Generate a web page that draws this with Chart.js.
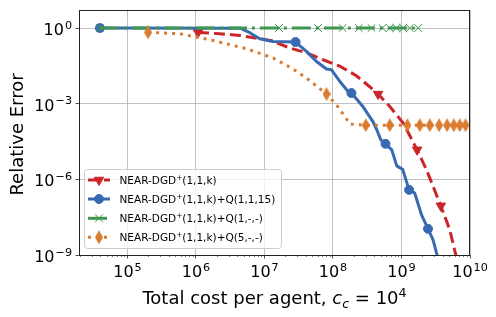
<!DOCTYPE html>
<html>
<head>
    <title>Relative Error vs Total Cost</title>
    <script src="https://cdn.jsdelivr.net/npm/chart.js"></script>
    <style>
        body {
            margin: 0;
            padding: 0;
            background-color: #fff;
        }

        #wrap {
            width: 496px;
            height: 317px;
        }
    </style>
</head>
<body>
    <div id="wrap"><canvas id="errChart" width="496" height="317"></canvas></div>

    <script>
        // series names (legend order)
        const seriesNames = [
            'NEAR-DGD\u207A(1,1,k)',
            'NEAR-DGD\u207A(1,1,k)+Q(1,1,15)',
            'NEAR-DGD\u207A(1,1,k)+Q(1,-,-)',
            'NEAR-DGD\u207A(1,1,k)+Q(5,-,-)'
        ];

        // NEAR-DGD+(1,1,k)
        const redCost = [1.07e6, 2.22e6, 4.35e6, 1.28e7, 2.34e7, 4.1e7, 7.17e7, 1.26e8, 2.2e8, 3.44e8, 4.55e8, 6.75e8, 1.06e9, 1.69e9, 2.32e9, 3.75e9, 5.07e9, 6.2e9, 6.86e9];
        const redErr = [0.669, 0.594, 0.508, 0.313, 0.161, 0.105, 0.0552, 0.0305, 0.0128, 4.69e-3, 2.4e-3, 7.74e-4, 1.7e-4, 1.48e-5, 2.38e-6, 8.9e-8, 9.9e-9, 1.0e-9, 4e-10];
        const redMarks = [0, 10, 13, 15];

        // +Q(1,1,15)
        const blueCost = [3.95e4, 4.39e6, 6.1e6, 8.53e6, 1.32e7, 2.84e7, 4.1e7, 5.74e7, 8.04e7, 9.51e7, 1.26e8, 1.66e8, 1.86e8, 2.75e8, 3.85e8, 4.36e8, 4.99e8, 5.84e8, 7.21e8, 8.53e8, 1.04e9, 1.29e9, 1.56e9, 1.96e9, 2.44e9, 2.89e9, 3.39e9];
        const blueErr = [1.0, 0.98, 0.65, 0.376, 0.294, 0.278, 0.118, 0.0473, 0.0236, 0.0221, 7.6e-3, 3.05e-3, 2.63e-3, 7.5e-4, 1.91e-4, 9.2e-5, 3.69e-5, 2.56e-5, 1.48e-5, 3.43e-6, 2.49e-6, 3.83e-7, 2.83e-7, 3.9e-8, 1.09e-8, 3.97e-9, 7.7e-10];
        const blueMarks = [0, 5, 12, 17, 21, 24];

        // +Q(1,-,-)
        const greenCost = [3.95e4, 1.63e7, 6.05e7, 1.38e8, 2.38e8, 3.65e8, 5.28e8, 6.75e8, 8.45e8, 1.06e9, 1.32e9, 1.75e9];
        const greenErr = [1.0, 1.0, 1.0, 1.0, 1.0, 1.0, 1.0, 1.0, 1.0, 1.0, 1.0, 1.0];
        const greenMarks = [0, 1, 2, 3, 4, 5, 6, 7, 8, 9, 10, 11];

        // +Q(5,-,-)
        const orangeCost = [2.0e5, 5.8e5, 1.76e6, 5.46e6, 1.34e7, 2.62e7, 4.1e7, 8.04e7, 1.12e8, 1.49e8, 1.76e8, 3.01e8, 6.75e8, 1.22e9, 1.85e9, 2.59e9, 3.54e9, 4.63e9, 5.8e9, 7.1e9, 8.6e9];
        const orangeErr = [0.669, 0.594, 0.322, 0.151, 0.0645, 0.0236, 0.0104, 2.4e-3, 9.0e-4, 3.1e-4, 1.55e-4, 1.4e-4, 1.4e-4, 1.4e-4, 1.4e-4, 1.4e-4, 1.4e-4, 1.4e-4, 1.4e-4, 1.4e-4, 1.4e-4];
        const orangeMarks = [0, 7, 11, 12, 13, 14, 15, 16, 17, 18, 19, 20];

        // axes
        const xTicks = [1e5, 1e6, 1e7, 1e8, 1e9, 1e10];
        const yTicks = [1e-9, 1e-6, 1e-3, 1];
        const xRange = [1.96e4, 1e10];
        const yRange = [1e-9, 5.18];

        const FONT = '"DejaVu Sans", sans-serif';

        function thinDiamond(color, w, h) {
            const c = document.createElement('canvas');
            c.width = w; c.height = h;
            const g = c.getContext('2d');
            g.fillStyle = color;
            g.beginPath();
            g.moveTo(w / 2, 0); g.lineTo(w, h / 2); g.lineTo(w / 2, h); g.lineTo(0, h / 2);
            g.closePath();
            g.fill();
            return c;
        }

        function toPoints(xs, ys) {
            return xs.map((x, i) => ({ x: x, y: ys[i] }));
        }

        function markRadius(marks, r) {
            return c => marks.includes(c.dataIndex) ? r : 0;
        }

        const diamondImg = thinDiamond('#DA7C30', 8, 14);

        const datasets = [
            {
                label: seriesNames[0], data: toPoints(redCost, redErr), order: 4,
                borderColor: '#CC2529', backgroundColor: '#CC2529', borderWidth: 3, borderDash: [11, 5],
                pointStyle: 'triangle', rotation: 180, pointRadius: markRadius(redMarks, 5.5), pointBorderWidth: 1
            },
            {
                label: seriesNames[1], data: toPoints(blueCost, blueErr), order: 3,
                borderColor: '#396AB1', backgroundColor: '#396AB1', borderWidth: 3, borderDash: [],
                pointStyle: 'circle', rotation: 0, pointRadius: markRadius(blueMarks, 4.5), pointBorderWidth: 1
            },
            {
                label: seriesNames[2], data: toPoints(greenCost, greenErr), order: 2,
                borderColor: '#3E9651', backgroundColor: '#3E9651', borderWidth: 3, borderDash: [19, 5, 3, 5],
                pointStyle: 'crossRot', rotation: 0, pointRadius: markRadius(greenMarks, 5.5), pointBorderWidth: 1
            },
            {
                label: seriesNames[3], data: toPoints(orangeCost, orangeErr), order: 1,
                borderColor: '#DA7C30', backgroundColor: '#DA7C30', borderWidth: 3, borderDash: [3, 5],
                pointStyle: diamondImg, rotation: 0, pointRadius: markRadius(orangeMarks, 5), pointBorderWidth: 0
            }
        ];
        datasets.forEach(d => {
            d.fill = false;
            d.tension = 0;
            d.clip = 0;
            d.borderCapStyle = 'butt';
            d.borderJoinStyle = 'round';
            d.pointHoverRadius = 0;
        });

        // draw a marker for the legend
        function drawMarker(g, ds, x, y) {
            const style = ds.pointStyle;
            g.save();
            g.translate(x, y);
            g.fillStyle = ds.borderColor;
            g.strokeStyle = ds.borderColor;
            g.lineWidth = 1;
            g.setLineDash([]);
            if (style instanceof HTMLCanvasElement) {
                g.drawImage(style, -style.width / 2, -style.height / 2);
            } else if (style === 'circle') {
                g.beginPath(); g.arc(0, 0, 4.5, 0, Math.PI * 2); g.fill(); g.stroke();
            } else if (style === 'triangle') {
                const r = 5.5;
                g.rotate(Math.PI);
                g.beginPath();
                for (let k = 0; k < 3; k++) {
                    const a = k * 2 * Math.PI / 3;
                    g.lineTo(Math.sin(a) * r, -Math.cos(a) * r);
                }
                g.closePath(); g.fill(); g.stroke();
            } else if (style === 'crossRot') {
                const o = 5.5 * Math.SQRT1_2;
                g.beginPath();
                g.moveTo(-o, -o); g.lineTo(o, o);
                g.moveTo(-o, o); g.lineTo(o, -o);
                g.stroke();
            }
            g.restore();
        }

        // "10" with a raised exponent
        function drawPow(g, exp, x, y, align, size) {
            const expStr = String(exp).replace('-', '\u2212');
            const small = size * 0.7;
            g.font = size + 'px ' + FONT;
            const wBase = g.measureText('10').width;
            g.font = small + 'px ' + FONT;
            const wExp = g.measureText(expStr).width;
            const total = wBase + wExp + 1;
            const x0 = align === 'right' ? x - total : x - total / 2;
            g.textAlign = 'left';
            g.textBaseline = 'alphabetic';
            g.font = size + 'px ' + FONT;
            g.fillText('10', x0, y);
            g.font = small + 'px ' + FONT;
            g.fillText(expStr, x0 + wBase + 1, y - size * 0.4);
        }

        function drawRuns(g, runs, x, y, align) {
            let total = 0;
            runs.forEach(r => { g.font = r.f; r.w = g.measureText(r.t).width; total += r.w; });
            let cx = align === 'center' ? x - total / 2 : x;
            g.textAlign = 'left';
            g.textBaseline = 'alphabetic';
            runs.forEach(r => { g.font = r.f; g.fillText(r.t, cx, y + (r.dy || 0)); cx += r.w; });
        }

        const mplLook = {
            id: 'mplLook',
            afterDraw(chart) {
                const g = chart.ctx;
                const a = chart.chartArea;
                const xs = chart.scales.x, ys = chart.scales.y;
                g.save();
                g.fillStyle = '#000';

                // minor ticks on x
                g.strokeStyle = '#222';
                g.lineWidth = 0.6;
                g.beginPath();
                for (let d = 4; d < 10; d++) {
                    for (let m = 2; m < 10; m++) {
                        const v = m * Math.pow(10, d);
                        if (v < xRange[0] || v > xRange[1]) continue;
                        const px = Math.round(xs.getPixelForValue(v)) + 0.5;
                        g.moveTo(px, a.bottom); g.lineTo(px, a.bottom + 2);
                    }
                }
                g.stroke();

                // frame
                g.strokeStyle = '#222';
                g.lineWidth = 1;
                g.strokeRect(Math.round(a.left) + 0.5, Math.round(a.top) + 0.5, Math.round(a.right - a.left) - 1, Math.round(a.bottom - a.top));

                // tick labels
                xTicks.forEach(v => drawPow(g, Math.round(Math.log10(v)), xs.getPixelForValue(v), a.bottom + 22, 'center', 16));
                yTicks.forEach(v => drawPow(g, Math.round(Math.log10(v)), a.left - 7, ys.getPixelForValue(v) + 7, 'right', 16));

                // axis titles
                drawRuns(g, [
                    { t: 'Total cost per agent, ', f: '18px ' + FONT },
                    { t: 'c', f: 'italic 18px ' + FONT },
                    { t: 'c', f: 'italic 12.6px ' + FONT, dy: 3.5 },
                    { t: ' = 10', f: '18px ' + FONT },
                    { t: '4', f: '12.6px ' + FONT, dy: -7.5 }
                ], (a.left + a.right) / 2, 304, 'center');

                g.save();
                g.translate(22.5, (a.top + a.bottom) / 2 + 2);
                g.rotate(-Math.PI / 2);
                g.font = '18px ' + FONT;
                g.textAlign = 'center';
                g.textBaseline = 'alphabetic';
                g.fillText('Relative Error', 0, 0);
                g.restore();

                // legend
                const lx = 84.5, ly = 169.5, lw = 197, lh = 79;
                g.beginPath();
                g.roundRect(lx, ly, lw, lh, 3);
                g.fillStyle = 'rgba(255,255,255,0.8)';
                g.fill();
                g.strokeStyle = '#cccccc';
                g.lineWidth = 1;
                g.stroke();
                const rowY = [180, 199, 218.3, 237.3];
                chart.data.datasets.forEach((ds, i) => {
                    const y = rowY[i];
                    g.save();
                    g.strokeStyle = ds.borderColor;
                    g.lineWidth = ds.borderWidth;
                    g.lineCap = 'butt';
                    g.setLineDash(ds.borderDash);
                    g.beginPath();
                    g.moveTo(88, y); g.lineTo(110, y);
                    g.stroke();
                    g.restore();
                    drawMarker(g, ds, 99, y);
                    const parts = ds.label.split('\u207A');
                    g.fillStyle = '#000';
                    drawRuns(g, [
                        { t: parts[0], f: '10.5px ' + FONT },
                        { t: '+', f: '7.4px ' + FONT, dy: -4.5 },
                        { t: parts[1], f: '10.5px ' + FONT }
                    ], 119.5, y + 4, 'left');
                });
                g.restore();
            }
        };

        new Chart(document.getElementById('errChart'), {
            type: 'line',
            data: { datasets: datasets },
            options: {
                responsive: false,
                animation: false,
                devicePixelRatio: 1,
                events: [],
                layout: { padding: { top: 10, right: 26, left: 0, bottom: 0 } },
                plugins: {
                    legend: { display: false },
                    tooltip: { enabled: false }
                },
                scales: {
                    x: {
                        type: 'logarithmic',
                        min: xRange[0],
                        max: xRange[1],
                        afterBuildTicks: s => { s.ticks = xTicks.map(v => ({ value: v })); },
                        afterFit: s => { s.height = 62; },
                        ticks: { display: false },
                        border: { display: false },
                        grid: { color: '#b0b0b0', lineWidth: 0.8, tickLength: 3.5, tickColor: '#222', tickWidth: 0.8 }
                    },
                    y: {
                        type: 'logarithmic',
                        min: yRange[0],
                        max: yRange[1],
                        afterBuildTicks: s => { s.ticks = yTicks.map(v => ({ value: v })); },
                        afterFit: s => { s.width = 79; },
                        ticks: { display: false },
                        border: { display: false },
                        grid: { color: '#b0b0b0', lineWidth: 0.8, tickLength: 3.5, tickColor: '#222', tickWidth: 0.8 }
                    }
                }
            },
            plugins: [mplLook]
        });
    </script>
</body>
</html>
